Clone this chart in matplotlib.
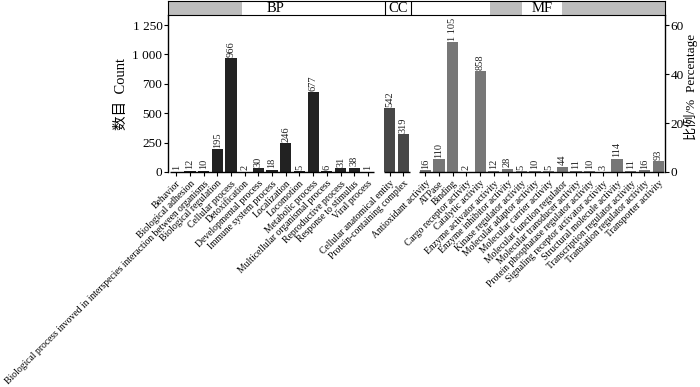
import matplotlib
matplotlib.use("Agg")
import matplotlib.pyplot as plt
from matplotlib.patches import Rectangle
import numpy as np

plt.rcParams['font.family'] = ['Liberation Serif', 'Noto Sans CJK SC']

bp_terms = ["Behavior", "Biological adhesion",
            "Biological process invoved in interspecies interaction between organisms",
            "Biological regulation", "Cellular process", "Detoxification",
            "Developmental process", "Immune system process", "Localization",
            "Locomotion", "Metabolic process", "Multicellular organismal process",
            "Reproductive process", "Response to stimulus", "Viral process"]
bp_counts = [1, 12, 10, 195, 966, 2, 30, 18, 246, 5, 677, 6, 31, 38, 1]

cc_terms = ["Cellular anatomical entity", "Protein-containing complex"]
cc_counts = [542, 319]

mf_terms = ["Antioxidant activity", "ATPase", "Binding", "Cargo receptor activity",
            "Catalytic activity", "Enzyme activator activity", "Enzyme inhibitor activity",
            "Kinase regulator activity", "Molecular adaptor activity",
            "Molecular carrier activity", "Molecular function regulator",
            "Molecular transducer activity", "Protein phosphatase regulator activity",
            "Signaling receptor activator activity", "Structural molecule activity",
            "Transcription regulator activity", "Translation regulator activity",
            "Transporter activity"]
mf_counts = [16, 110, 1105, 2, 858, 12, 28, 5, 10, 5, 44, 11, 10, 3, 114, 11, 16, 93]

y_ticks = [0, 250, 500, 750, 1000, 1250]
y_ticklabels = ["0", "250", "500", "700", "1 000", "1 250"]
pct_ticks = [0, 20, 40, 60]

group_colors = ["#222222", "#474747", "#777777"]
gap = 0.6

fig = plt.figure(figsize=(7, 3.87), dpi=100)
ax = fig.add_axes([0.24, 0.5556, 0.71, 0.4055])

groups = [(bp_terms, bp_counts), (cc_terms, cc_counts), (mf_terms, mf_counts)]
xs_all, labels_all = [], []
start = 0.0
spans = []
for gi, (terms, counts) in enumerate(groups):
    xs = start + np.arange(len(terms))
    ax.bar(xs, counts, width=0.82, color=group_colors[gi], edgecolor="none")
    for x, c in zip(xs, counts):
        txt = f"{c:,}".replace(",", " ")
        ax.text(x, c + 12, txt, rotation=90, ha="center", va="bottom",
                fontsize=7.5, color="#222222")
    spans.append((xs[0] - 0.5, xs[-1] + 0.5))
    xs_all.extend(xs)
    labels_all.extend(terms)
    start = xs[-1] + 1 + gap

ax.set_xlim(-0.6, xs_all[-1] + 0.5)
ymax = 1335
ax.set_ylim(0, ymax)
ax.set_yticks(y_ticks)
ax.set_yticklabels(y_ticklabels, fontsize=9.5)
ax.set_xticks(xs_all)
ax.set_xticklabels(labels_all, rotation=45, ha="right", rotation_mode="anchor",
                   fontsize=6.9)
ax.tick_params(axis="x", length=3, width=0.8, pad=2)
ax.tick_params(axis="y", length=3, width=0.8, pad=1)
ax.spines["top"].set_visible(False)
ax.spines["bottom"].set_visible(False)
ax.spines["right"].set_visible(False)
ax.spines["left"].set_linewidth(1.0)
for a, b in spans:
    ax.plot([a + 0.05, b - 0.05], [0, 0], color="black", lw=1.0, clip_on=False,
            solid_capstyle="butt")
ax.set_ylabel("数目  Count", fontsize=10.5, labelpad=3)

ax2 = ax.twinx()
ax2.set_ylim(0, ymax * 60 / 1250)
ax2.set_yticks(pct_ticks)
ax2.set_yticklabels([str(t) for t in pct_ticks], fontsize=9.5)
ax2.tick_params(axis="y", length=3, width=0.8, pad=1)
for s in ["top", "left", "bottom"]:
    ax2.spines[s].set_visible(False)
ax2.spines["right"].set_linewidth(1.0)
fig.text(0.987, 0.775, "比例/%  Percentage", rotation=90, ha="center", va="center",
         fontsize=9.5)

# top category strip
sx = fig.add_axes([0.24, 0.961, 0.71, 0.036])
sx.set_xlim(0, 1)
sx.set_ylim(0, 1)
sx.set_xticks([])
sx.set_yticks([])
for s in sx.spines.values():
    s.set_linewidth(0.8)
strip = [(0.0, 0.149, "#bdbdbd"), (0.149, 0.437, "white"), (0.437, 0.488, "white"),
         (0.488, 0.648, "white"), (0.648, 0.712, "#bdbdbd"), (0.712, 0.793, "white"),
         (0.793, 1.0, "#bdbdbd")]
for a, b, col in strip:
    sx.add_patch(Rectangle((a, 0), b - a, 1, facecolor=col, edgecolor="none"))
sx.axvline(0.437, color="black", lw=0.8)
sx.axvline(0.488, color="black", lw=0.8)
sx.text(0.217, 0.45, "BP", ha="center", va="center", fontsize=10.5)
sx.text(0.4625, 0.45, "CC", ha="center", va="center", fontsize=10.5)
sx.text(0.7525, 0.45, "MF", ha="center", va="center", fontsize=10.5)

fig.savefig("out.png", dpi=100)
